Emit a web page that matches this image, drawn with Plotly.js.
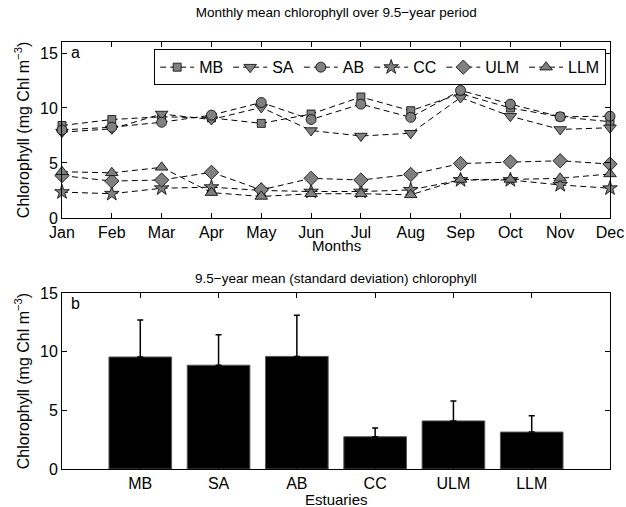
<!DOCTYPE html>
<html><head><meta charset="utf-8">
<script src="https://cdn.plot.ly/plotly-3.0.1.min.js"></script>
<style>html,body{margin:0;padding:0;background:#fff}#chart{width:626px;height:507px}</style>
</head><body><div id="chart"></div>
<script>
const months = ["Jan","Feb","Mar","Apr","May","Jun","Jul","Aug","Sep","Oct","Nov","Dec"];
const MB  = [8.4, 8.95, 9.2, 9.1, 8.6, 9.45, 11.0, 9.75, 11.3, 10.0, 9.2, 8.75];
const SA  = [7.8, 8.1, 9.45, 8.95, 10.05, 7.95, 7.45, 7.7, 10.95, 9.25, 8.05, 8.2];
const AB  = [8.0, 8.25, 8.7, 9.35, 10.5, 8.95, 10.35, 9.15, 11.6, 10.35, 9.2, 9.25];
const CC  = [2.35, 2.2, 2.7, 2.8, 2.5, 2.4, 2.4, 2.55, 3.45, 3.45, 3.0, 2.7];
const ULM = [3.85, 3.35, 3.45, 4.15, 2.55, 3.6, 3.45, 3.95, 4.95, 5.1, 5.2, 4.9];
const LLM = [4.2, 4.1, 4.6, 2.3, 1.95, 2.2, 2.2, 2.1, 3.5, 3.5, 3.6, 4.0];

const estuaries = ["MB","SA","AB","CC","ULM","LLM"];
const meanChl = [9.55, 8.85, 9.6, 2.75, 4.1, 3.15];
const sdChl   = [3.15, 2.6, 3.5, 0.75, 1.7, 1.4];

const series = [
  {name:"MB", y:MB, symbol:"square", size:8},
  {name:"SA", y:SA, symbol:"triangle-down", size:11},
  {name:"AB", y:AB, symbol:"circle", size:10},
  {name:"CC", y:CC, symbol:"star", size:11},
  {name:"ULM", y:ULM, symbol:"diamond", size:11},
  {name:"LLM", y:LLM, symbol:"triangle-up", size:11}
];

const traces = series.map(s => ({
  type:"scatter", mode:"lines+markers", name:s.name, x:months, y:s.y,
  xaxis:"x", yaxis:"y", cliponaxis:false,
  line:{color:"#000", width:1, dash:"6px,4px"},
  marker:{symbol:s.symbol, size:s.size, color:"#808080", line:{color:"#000", width:0.8}}
}));

traces.push({
  type:"bar", x:estuaries, y:meanChl, xaxis:"x2", yaxis:"y2", showlegend:false,
  width:0.8,
  marker:{color:"#000", line:{color:"#555", width:1}},
  error_y:{type:"data", symmetric:false, array:sdChl, arrayminus:estuaries.map(()=>0),
           color:"#000", thickness:1.5, width:3}
});

const FAM = "Liberation Sans, Arial, Helvetica, sans-serif";
const font = {family:FAM, size:16, color:"#000"};
const axisCommon = {showline:true, linecolor:"#000", linewidth:1, mirror:"ticks",
  ticks:"inside", ticklen:5, tickcolor:"#000", showgrid:false, zeroline:false,
  tickfont:{family:FAM, size:16, color:"#000"}};

const layout = {
  width:626, height:507,
  margin:{l:62, r:16, t:42, b:38},
  paper_bgcolor:"#fff", plot_bgcolor:"#fff",
  font:font,
  showlegend:true,
  legend:{orientation:"h", x:0.993, xanchor:"right", y:0.983, yanchor:"top",
    bgcolor:"#fff", bordercolor:"#000", borderwidth:1,
    font:{family:FAM, size:16, color:"#000"}, itemwidth:34, tracegroupgap:0},
  xaxis:Object.assign({}, axisCommon, {domain:[0,1], anchor:"y", type:"category",
    range:[0,11]}),
  yaxis:Object.assign({}, axisCommon, {domain:[0.588,1], anchor:"x", range:[0,16],
    tickvals:[0,5,10,15],
    title:{text:"Chlorophyll (mg Chl m<sup>−3</sup>)", font:{family:FAM, size:16}, standoff:6}}),
  xaxis2:Object.assign({}, axisCommon, {domain:[0,1], anchor:"y2", type:"category",
    range:[-1,6]}),
  yaxis2:Object.assign({}, axisCommon, {domain:[0,0.412], anchor:"x2", range:[0,15],
    tickvals:[0,5,10,15],
    title:{text:"Chlorophyll (mg Chl m<sup>−3</sup>)", font:{family:FAM, size:16}, standoff:6}}),
  title:{text:"Monthly mean chlorophyll over 9.5−year period", x:0.537, xanchor:"center",
    y:0.976, yanchor:"middle", font:{family:FAM, size:13.5, color:"#000"}},
  annotations:[
    {text:"9.5−year mean (standard deviation) chlorophyll", xref:"paper", yref:"paper",
     x:0.5, y:0.412, yshift:5, xanchor:"center", yanchor:"bottom", showarrow:false,
     font:{family:FAM, size:13.5, color:"#000"}},
    {text:"Months", xref:"paper", yref:"paper", x:0.5, y:0.524, xanchor:"center", yanchor:"middle",
     showarrow:false, font:{family:FAM, size:15, color:"#000"}},
    {text:"Estuaries", xref:"paper", yref:"paper", x:0.5, y:-0.072, xanchor:"center", yanchor:"middle",
     showarrow:false, font:{family:FAM, size:15, color:"#000"}},
    {text:"a", xref:"x domain", yref:"y domain", x:0.012, y:1.0, xanchor:"left", yanchor:"top",
     showarrow:false, font:{family:FAM, size:16, color:"#000"}},
    {text:"b", xref:"x2 domain", yref:"y2 domain", x:0.012, y:1.0, xanchor:"left", yanchor:"top",
     showarrow:false, font:{family:FAM, size:16, color:"#000"}}
  ]
};

Plotly.newPlot("chart", traces, layout, {displayModeBar:false, staticPlot:true});
</script></body></html>
